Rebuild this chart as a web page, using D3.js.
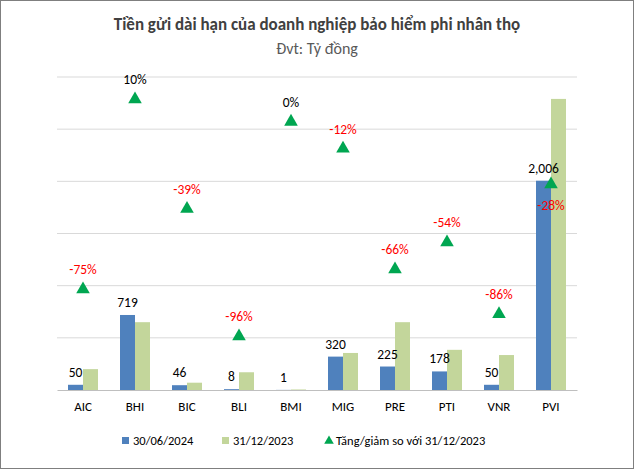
<!DOCTYPE html>
<html><head><meta charset="utf-8">
<script src="https://cdn.jsdelivr.net/npm/d3@7"></script>
<style>body{margin:0;font-family:Calibri,Lato,"Liberation Sans",Arial,sans-serif;}</style>
</head><body><div id="chart"></div>
<script>
var categories = ['AIC','BHI','BIC','BLI','BMI','MIG','PRE','PTI','VNR','PVI'];
var jun2024 = [50, 719, 46, 8, 1, 320, 225, 178, 50, 2006];
var dec2023 = [200, 650, 70, 170, 5, 355, 650, 385, 335, 2790];
var change = [-75, 10, -39, -96, 0, -12, -66, -54, -86, -28];
var legendLabels = ['30/06/2024', '31/12/2023', 'Tăng/giảm so với 31/12/2023'];

var W = 634, H = 469;
var m = {left: 57, right: 57, top: 77, bottom: 79};
var svg = d3.select('#chart').append('svg').attr('width', W).attr('height', H);
svg.append('rect').attr('x', 0.5).attr('y', 0.5).attr('width', W - 1).attr('height', H - 1)
  .attr('fill', 'white').attr('stroke', '#7f7f7f');

var x = d3.scaleBand().domain(categories).range([m.left, W - m.right]);
var y = d3.scaleLinear().domain([0, 3000]).range([H - m.bottom, m.top]);
var y2 = d3.scaleLinear().domain([-120, 20]).range([H - m.bottom, m.top]);

// gridlines
svg.selectAll('.grid').data(d3.range(500, 3001, 500)).enter().append('line')
  .attr('x1', m.left).attr('x2', W - m.right)
  .attr('y1', d => y(d)).attr('y2', d => y(d))
  .attr('stroke', '#d9d9d9');

var bw = 15;
svg.selectAll('.b1').data(jun2024).enter().append('rect')
  .attr('x', (d, i) => x(categories[i]) + x.bandwidth() / 2 - bw)
  .attr('y', d => y(d)).attr('width', bw).attr('height', d => y(0) - y(d))
  .attr('fill', '#4f81bd');
svg.selectAll('.b2').data(dec2023).enter().append('rect')
  .attr('x', (d, i) => x(categories[i]) + x.bandwidth() / 2)
  .attr('y', d => y(d)).attr('width', bw).attr('height', d => y(0) - y(d))
  .attr('fill', '#c3d69b');

// axis
svg.append('g').attr('transform', 'translate(0,' + y(0) + ')')
  .call(d3.axisBottom(x).tickSize(0).tickPadding(12))
  .call(g => g.select('.domain').attr('stroke', '#bfbfbf'))
  .call(g => g.selectAll('text').attr('font-size', 13).attr('fill', '#000').attr('font-family', 'Calibri,Lato,"Liberation Sans",Arial,sans-serif'));

// value labels
svg.selectAll('.vl').data(jun2024).enter().append('text')
  .attr('x', (d, i) => x(categories[i]) + x.bandwidth() / 2 - bw / 2)
  .attr('y', d => y(d) - 8).attr('text-anchor', 'middle').attr('font-size', 13.5)
  .text(d => d3.format(',')(d));

// triangles
var tri = d3.symbol().type(d3.symbolTriangle).size(80);
svg.selectAll('.tr').data(change).enter().append('path')
  .attr('d', tri)
  .attr('transform', (d, i) => 'translate(' + (x(categories[i]) + x.bandwidth() / 2) + ',' + y2(d) + ')')
  .attr('fill', '#00a651');
svg.selectAll('.pl').data(change).enter().append('text')
  .attr('x', (d, i) => x(categories[i]) + x.bandwidth() / 2)
  .attr('y', (d, i) => i === 9 ? y2(d) + 26 : y2(d) - 15)
  .attr('text-anchor', 'middle').attr('font-size', 13.5)
  .attr('fill', d => d < 0 ? '#ff0000' : '#000')
  .text(d => d + '%');

// title
svg.append('text').attr('x', W / 2).attr('y', 30).attr('text-anchor', 'middle')
  .attr('font-size', 17).attr('font-weight', 'bold').attr('fill', '#404040')
  .text('Tiền gửi dài hạn của doanh nghiệp bảo hiểm phi nhân thọ');
svg.append('text').attr('x', W / 2).attr('y', 54).attr('text-anchor', 'middle')
  .attr('font-size', 16).attr('fill', '#595959').text('Đvt: Tỷ đồng');

// legend
var lg = svg.append('g').attr('transform', 'translate(0,441)');
var lx = [122, 222, 325];
lg.append('rect').attr('x', lx[0]).attr('y', -4).attr('width', 7).attr('height', 7).attr('fill', '#4f81bd');
lg.append('rect').attr('x', lx[1]).attr('y', -4).attr('width', 7).attr('height', 7).attr('fill', '#c3d69b');
lg.append('path').attr('d', d3.symbol().type(d3.symbolTriangle).size(40))
  .attr('transform', 'translate(' + (lx[2] + 4) + ',0)').attr('fill', '#00a651');
lg.selectAll('.lt').data(legendLabels).enter().append('text')
  .attr('x', (d, i) => lx[i] + 11).attr('y', 4).attr('font-size', 12.5).attr('fill', '#000')
  .text(d => d);
</script></body></html>
